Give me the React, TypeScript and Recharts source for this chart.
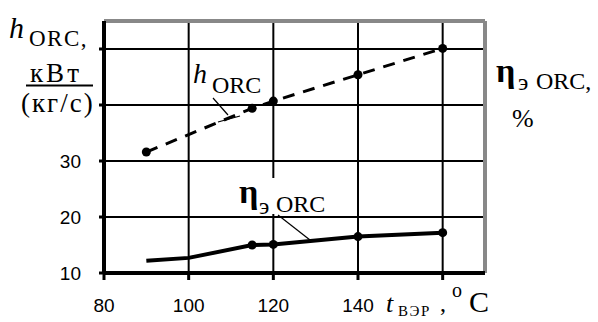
import React from 'react';
import {
  LineChart,
  Line,
  XAxis,
  YAxis,
  CartesianGrid,
  ReferenceLine,
} from 'recharts';

// evaporator temperature, °C
const temps = [90, 100, 115, 120, 140, 160];
// specific ORC work, kW/(kg/s)
const hOrc = [31.6, null, 39.4, 40.7, 45.4, 50.1];
// ORC efficiency, %
const etaOrc = [12.2, 12.7, 15.0, 15.1, 16.5, 17.2];
const etaMarked = [115, 120, 140, 160];

const xTicks = [80, 100, 120, 140, 160];
const leftTicks = [10, 20, 30, 40, 50];
const rightTicks = [10, 20, 30, 40];

const data = temps.map((t, i) => ({ t, h: hOrc[i], eta: etaOrc[i] }));

const serif = '"Liberation Serif", "DejaVu Serif", serif';
const sans = '"Liberation Sans", Arial, sans-serif';
const tickStyle = { fontFamily: sans, fontSize: 19, fill: '#000' };

const dotFor = (marked: (p: any) => boolean) => (props: any) => {
  const { cx, cy, payload, index } = props;
  if (cx == null || cy == null || !marked(payload)) return <g key={`d${index}`} />;
  return <circle key={`d${index}`} cx={cx} cy={cy} r={4.5} fill='#000' />;
};

const Annotations = () => (
  <svg
    width={598}
    height={322}
    style={{ position: 'absolute', left: 0, top: 0, pointerEvents: 'none' }}
  >
    {/* left axis title */}
    <text x={9} y={38} fontFamily={serif} fontSize={30} fontStyle='italic'>h</text>
    <text x={29} y={46} fontFamily={serif} fontSize={23} letterSpacing={1.5}>ORC,</text>
    <text x={30} y={82} fontFamily={serif} fontSize={27} letterSpacing={3}>кВт</text>
    <line x1={26} y1={85.5} x2={93} y2={85.5} stroke='#000' strokeWidth={2} />
    <text x={21} y={112} fontFamily={serif} fontSize={27} letterSpacing={2}>(кг/с)</text>

    {/* right axis title */}
    <text x={496} y={82} fontFamily={serif} fontSize={34} fontWeight='bold'>η</text>
    <text x={518} y={90} fontFamily={serif} fontSize={24}>э</text>
    <text x={536} y={89} fontFamily={serif} fontSize={24}>ORC,</text>
    <text x={512} y={127} fontFamily={serif} fontSize={26}>%</text>

    {/* x axis title */}
    <text x={386} y={312} fontFamily={serif} fontSize={26} fontStyle='italic'>t</text>
    <text x={398} y={316} fontFamily={serif} fontSize={15} letterSpacing={1.5}>ВЭР</text>
    <text x={440} y={311} fontFamily={serif} fontSize={24}>,</text>
    <text x={452} y={297} fontFamily={serif} fontSize={20}>o</text>
    <text x={469} y={312} fontFamily={serif} fontSize={30}>C</text>

    {/* series labels */}
    <text x={193} y={83} fontFamily={serif} fontSize={28} fontStyle='italic'>h</text>
    <text x={212} y={93} fontFamily={serif} fontSize={24}>ORC</text>
    <line x1={213} y1={98} x2={228} y2={115} stroke='#000' strokeWidth={1.2} />
    <line x1={218} y1={122} x2={240} y2={116} stroke='#000' strokeWidth={1.2} />

    <rect x={240} y={178} width={95} height={36} fill='#fff' />
    <text x={239} y={203} fontFamily={serif} fontSize={34} fontWeight='bold'>η</text>
    <text x={259} y={214} fontFamily={serif} fontSize={24}>э</text>
    <text x={276} y={212} fontFamily={serif} fontSize={24}>ORC</text>
    <line x1={278} y1={215} x2={310} y2={240} stroke='#000' strokeWidth={1.2} />
  </svg>
);

const App = () => (
  <div style={{ position: 'absolute', left: 0, top: 0, width: 598, height: 322, background: '#fff' }}>
    <LineChart
      width={598}
      height={322}
      data={data}
      margin={{ top: 21, right: 53, bottom: 9, left: 44 }}
    >
      <CartesianGrid
        stroke='#000'
        strokeWidth={2}
        horizontalValues={[20, 30, 40, 50]}
        verticalValues={[100, 120, 140, 160]}
        yAxisId='left'
      />
      <XAxis
        dataKey='t'
        type='number'
        domain={[80, 170]}
        ticks={xTicks}
        tickFormatter={(v) => (v === 160 ? '' : String(v))}
        tick={tickStyle}
        tickSize={7}
        tickMargin={19}
        height={40}
        axisLine={{ stroke: '#000', strokeWidth: 4 }}
        tickLine={{ stroke: '#000', strokeWidth: 3 }}
      />
      <YAxis
        yAxisId='left'
        domain={[10, 55]}
        ticks={leftTicks}
        tickFormatter={(v) => (v <= 30 ? String(v) : '')}
        tick={tickStyle}
        tickSize={5}
        tickMargin={18}
        width={60}
        axisLine={{ stroke: '#000', strokeWidth: 4 }}
        tickLine={{ stroke: '#000', strokeWidth: 3 }}
      />
      <YAxis
        yAxisId='right'
        orientation='right'
        domain={[10, 55]}
        ticks={rightTicks}
        tickFormatter={(v) => (v <= 30 ? String(v) : '')}
        tick={tickStyle}
        tickSize={7}
        tickMargin={14}
        width={60}
        axisLine={false}
        tickLine={{ stroke: '#000', strokeWidth: 3 }}
      />
      <ReferenceLine yAxisId='left' y={55} stroke='#888' strokeWidth={4} />
      <ReferenceLine yAxisId='left' x={170} stroke='#888' strokeWidth={4} />
      <ReferenceLine
        yAxisId='right'
        segment={[{ x: 170, y: 10 }, { x: 170, y: 40 }]}
        stroke='#000'
        strokeWidth={4}
      />
      <Line
        yAxisId='left'
        dataKey='h'
        type='linear'
        stroke='#000'
        strokeWidth={3}
        strokeDasharray='12 9'
        connectNulls
        dot={dotFor((p) => p.h != null)}
        isAnimationActive={false}
      />
      <Line
        yAxisId='left'
        dataKey='eta'
        type='linear'
        stroke='#000'
        strokeWidth={4}
        dot={dotFor((p) => etaMarked.includes(p.t))}
        isAnimationActive={false}
      />
    </LineChart>
    <Annotations />
  </div>
);

export default App;
